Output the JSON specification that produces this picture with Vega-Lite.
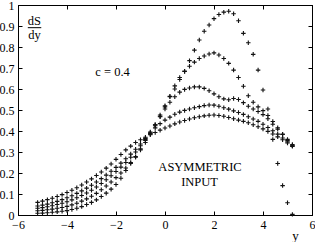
{
  "$schema": "https://vega.github.io/schema/vega-lite/v6.json",
  "width": 294,
  "height": 210,
  "autosize": "none",
  "padding": {"left": 18, "top": 5, "right": 3, "bottom": 27},
  "background": "white",
  "config": {
    "view": {"stroke": "black", "strokeWidth": 1},
    "font": "Liberation Serif",
    "axis": {
      "grid": false,
      "domainColor": "black",
      "tickColor": "black",
      "labelColor": "black",
      "labelFont": "Liberation Serif",
      "labelFontSize": 12,
      "titleFont": "Liberation Serif",
      "titleFontSize": 13,
      "titleFontWeight": "normal",
      "titleColor": "black",
      "tickSize": -4,
      "labelPadding": 8
    }
  },
  "resolve": {"axis": {"x": "independent", "y": "independent"}},
  "layer": [
    {
      "data": {"values": [
        {"x": -5.2, "A": 0.060, "B": 0.020, "C": 0.032, "D": 0.043, "E": 0.008},
        {"x": -5.0, "A": 0.066, "B": 0.022, "C": 0.035, "D": 0.047, "E": 0.009},
        {"x": -4.8, "A": 0.073, "B": 0.025, "C": 0.039, "D": 0.052, "E": 0.011},
        {"x": -4.6, "A": 0.080, "B": 0.028, "C": 0.044, "D": 0.058, "E": 0.013},
        {"x": -4.4, "A": 0.088, "B": 0.032, "C": 0.050, "D": 0.065, "E": 0.015},
        {"x": -4.2, "A": 0.097, "B": 0.036, "C": 0.056, "D": 0.073, "E": 0.018},
        {"x": -4.0, "A": 0.107, "B": 0.041, "C": 0.063, "D": 0.082, "E": 0.021},
        {"x": -3.8, "A": 0.118, "B": 0.048, "C": 0.072, "D": 0.092, "E": 0.026},
        {"x": -3.6, "A": 0.130, "B": 0.056, "C": 0.082, "D": 0.103, "E": 0.032},
        {"x": -3.4, "A": 0.143, "B": 0.066, "C": 0.093, "D": 0.115, "E": 0.040},
        {"x": -3.2, "A": 0.157, "B": 0.077, "C": 0.105, "D": 0.128, "E": 0.050},
        {"x": -3.0, "A": 0.172, "B": 0.089, "C": 0.118, "D": 0.142, "E": 0.060},
        {"x": -2.8, "A": 0.188, "B": 0.103, "C": 0.133, "D": 0.157, "E": 0.072},
        {"x": -2.6, "A": 0.205, "B": 0.120, "C": 0.150, "D": 0.173, "E": 0.088},
        {"x": -2.4, "A": 0.223, "B": 0.138, "C": 0.168, "D": 0.190, "E": 0.104},
        {"x": -2.2, "A": 0.243, "B": 0.157, "C": 0.187, "D": 0.208, "E": 0.123},
        {"x": -2.0, "A": 0.265, "B": 0.178, "C": 0.207, "D": 0.227, "E": 0.145},
        {"x": -1.8, "A": 0.288, "B": 0.200, "C": 0.228, "D": 0.247, "E": 0.175},
        {"x": -1.6, "A": 0.310, "B": 0.224, "C": 0.250, "D": 0.268, "E": 0.212},
        {"x": -1.4, "A": 0.328, "B": 0.250, "C": 0.275, "D": 0.290, "E": 0.245},
        {"x": -1.2, "A": 0.345, "B": 0.278, "C": 0.300, "D": 0.313, "E": 0.275},
        {"x": -1.0, "A": 0.358, "B": 0.310, "C": 0.330, "D": 0.338, "E": 0.315},
        {"x": -0.8, "A": 0.370, "B": 0.345, "C": 0.360, "D": 0.365, "E": 0.355},
        {"x": -0.6, "A": 0.382, "B": 0.385, "C": 0.395, "D": 0.390, "E": 0.390},
        {"x": -0.4, "A": 0.393, "B": 0.425, "C": 0.430, "D": 0.415, "E": 0.430},
        {"x": -0.2, "A": 0.404, "B": 0.468, "C": 0.470, "D": 0.435, "E": 0.476},
        {"x": 0.0, "A": 0.414, "B": 0.515, "C": 0.505, "D": 0.452, "E": 0.520},
        {"x": 0.2, "A": 0.424, "B": 0.565, "C": 0.537, "D": 0.466, "E": 0.563},
        {"x": 0.4, "A": 0.434, "B": 0.615, "C": 0.563, "D": 0.480, "E": 0.600},
        {"x": 0.6, "A": 0.443, "B": 0.655, "C": 0.585, "D": 0.490, "E": 0.645},
        {"x": 0.8, "A": 0.450, "B": 0.683, "C": 0.598, "D": 0.498, "E": 0.685},
        {"x": 1.0, "A": 0.457, "B": 0.708, "C": 0.605, "D": 0.505, "E": 0.735},
        {"x": 1.2, "A": 0.463, "B": 0.728, "C": 0.610, "D": 0.511, "E": 0.785},
        {"x": 1.4, "A": 0.468, "B": 0.745, "C": 0.610, "D": 0.516, "E": 0.833},
        {"x": 1.6, "A": 0.472, "B": 0.757, "C": 0.603, "D": 0.521, "E": 0.875},
        {"x": 1.8, "A": 0.475, "B": 0.767, "C": 0.592, "D": 0.524, "E": 0.905},
        {"x": 2.0, "A": 0.476, "B": 0.772, "C": 0.577, "D": 0.523, "E": 0.935},
        {"x": 2.2, "A": 0.474, "B": 0.762, "C": 0.563, "D": 0.518, "E": 0.955},
        {"x": 2.4, "A": 0.470, "B": 0.745, "C": 0.553, "D": 0.511, "E": 0.966},
        {"x": 2.6, "A": 0.464, "B": 0.722, "C": 0.549, "D": 0.504, "E": 0.970},
        {"x": 2.8, "A": 0.458, "B": 0.690, "C": 0.555, "D": 0.496, "E": 0.958},
        {"x": 3.0, "A": 0.452, "B": 0.655, "C": 0.550, "D": 0.488, "E": 0.925},
        {"x": 3.2, "A": 0.446, "B": 0.613, "C": 0.535, "D": 0.479, "E": 0.865},
        {"x": 3.4, "A": 0.439, "B": 0.568, "C": 0.518, "D": 0.468, "E": 0.820},
        {"x": 3.6, "A": 0.430, "B": 0.537, "C": 0.505, "D": 0.457, "E": 0.765},
        {"x": 3.8, "A": 0.420, "B": 0.515, "C": 0.493, "D": 0.446, "E": 0.690},
        {"x": 4.0, "A": 0.410, "B": 0.497, "C": 0.478, "D": 0.432, "E": 0.595},
        {"x": 4.2, "A": 0.398, "B": 0.474, "C": 0.458, "D": 0.417, "E": 0.505},
        {"x": 4.4, "A": 0.386, "B": 0.445, "C": 0.432, "D": 0.401, "E": 0.360},
        {"x": 4.6, "A": 0.372, "B": 0.415, "C": 0.408, "D": 0.385, "E": 0.245},
        {"x": 4.8, "A": 0.358, "B": 0.385, "C": 0.383, "D": 0.367, "E": 0.140},
        {"x": 5.0, "A": 0.343, "B": 0.355, "C": 0.360, "D": 0.348, "E": 0.058},
        {"x": 5.2, "A": 0.327, "B": 0.330, "C": 0.336, "D": 0.330, "E": 0.003}
      ]},
      "transform": [{"fold": ["A", "B", "C", "D", "E"], "as": ["curve", "v"]}],
      "mark": {"type": "point", "shape": "M-1,0H1M0,-1V1", "filled": false, "stroke": "#111", "strokeWidth": 1.1, "size": 20, "opacity": 1},
      "encoding": {
        "x": {"field": "x", "type": "quantitative",
              "scale": {"domain": [-6, 6], "nice": false, "zero": false},
              "axis": {"orient": "bottom", "values": [-6, -4, -2, 0, 2, 4, 6], "format": "~g", "title": "y", "titleAnchor": "start", "titleAlign": "center", "titleX": 277, "titleY": 24, "titleBaseline": "alphabetic", "labelFlush": false}},
        "y": {"field": "v", "type": "quantitative",
              "scale": {"domain": [0, 1], "nice": false},
              "axis": {"orient": "left", "values": [0, 0.1, 0.2, 0.3, 0.4, 0.5, 0.6, 0.7, 0.8, 0.9, 1], "format": "~g", "title": null, "labelFlush": false}}
      }
    },
    {
      "data": {"values": [
        {"x": -5.33, "v": 0.925, "t": "dS"},
        {"x": -5.33, "v": 0.858, "t": "dy"},
        {"x": -2.14, "v": 0.682, "t": "c = 0.4"},
        {"x": 1.43, "v": 0.23, "t": "ASYMMETRIC"},
        {"x": 1.41, "v": 0.159, "t": "INPUT"}
      ]},
      "mark": {"type": "text", "font": "Liberation Serif", "fontSize": 12.5, "color": "black", "baseline": "middle", "align": "center"},
      "encoding": {
        "x": {"field": "x", "type": "quantitative", "axis": {"orient": "top", "values": [-6, -4, -2, 0, 2, 4, 6], "labels": false, "title": null}},
        "y": {"field": "v", "type": "quantitative", "axis": {"orient": "right", "values": [0, 0.1, 0.2, 0.3, 0.4, 0.5, 0.6, 0.7, 0.8, 0.9, 1], "labels": false, "title": null}},
        "text": {"field": "t"}
      }
    },
    {
      "data": {"values": [{"x1": -5.6, "x2": -5.05, "v": 0.892}]},
      "mark": {"type": "rule", "color": "black", "strokeWidth": 1},
      "encoding": {
        "x": {"field": "x1", "type": "quantitative", "axis": null},
        "x2": {"field": "x2"},
        "y": {"field": "v", "type": "quantitative", "axis": null}
      }
    }
  ]
}
